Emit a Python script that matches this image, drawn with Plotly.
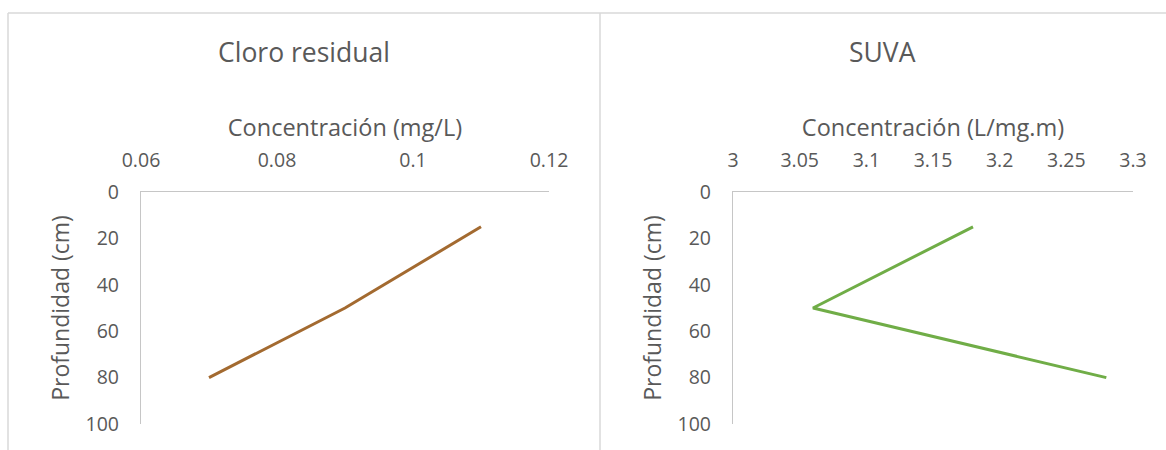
import plotly.graph_objects as go

# Depth profiles (depth in cm, concentration on the top axis)
depth_cm = [15, 50, 80]
cloro_mg_l = [0.11, 0.09, 0.07]
suva_l_mg_m = [3.18, 3.06, 3.28]

# Axis ticks
cloro_ticks = [0.06, 0.08, 0.10, 0.12]
cloro_tick_text = ["0.06", "0.08", "0.1", "0.12"]
suva_ticks = [3.0, 3.05, 3.1, 3.15, 3.2, 3.25, 3.3]
suva_tick_text = ["3", "3.05", "3.1", "3.15", "3.2", "3.25", "3.3"]
depth_ticks = [0, 20, 40, 60, 80, 100]

W, H = 1166, 450
FONT = "Open Sans, Lato, sans-serif"
TXT = "#595959"
AXIS = "#c6c6c6"
BORDER = "#d9d9d9"


def px_x(p):
    return p / W


def px_y(p):
    return 1 - p / H


fig = go.Figure()
fig.add_trace(go.Scatter(x=cloro_mg_l, y=depth_cm, mode="lines",
                         line=dict(color="#A36A30", width=3),
                         xaxis="x", yaxis="y", showlegend=False))
fig.add_trace(go.Scatter(x=suva_l_mg_m, y=depth_cm, mode="lines",
                         line=dict(color="#70AD47", width=3),
                         xaxis="x2", yaxis="y2", showlegend=False))

ydom = [px_y(424), px_y(192)]

common_x = dict(side="top", showgrid=False, zeroline=False, showline=True,
                linecolor=AXIS, linewidth=1.3, ticks="outside", ticklen=16,
                tickcolor="rgba(0,0,0,0)", automargin=False,
                tickfont=dict(family=FONT, size=19.5, color=TXT),
                title_font=dict(family=FONT, size=23.5, color=TXT),
                title_standoff=2, fixedrange=True)
common_y = dict(autorange=False, range=[100, 0], showgrid=False, zeroline=False,
                showline=True, linecolor=AXIS, linewidth=1.3, ticks="outside",
                ticklen=17, tickcolor="rgba(0,0,0,0)", tickvals=depth_ticks,
                automargin=False,
                tickfont=dict(family=FONT, size=19.5, color=TXT),
                title_font=dict(family=FONT, size=23, color=TXT),
                title_text="Profundidad (cm)", title_standoff=9,
                fixedrange=True)

fig.update_layout(
    width=W, height=H,
    margin=dict(l=0, r=0, t=0, b=0, autoexpand=False),
    paper_bgcolor="white", plot_bgcolor="white",
    xaxis=dict(common_x, domain=[px_x(141), px_x(549)], range=[0.06, 0.12],
               tickvals=cloro_ticks, ticktext=cloro_tick_text,
               title_text="Concentración (mg/L)", anchor="y"),
    yaxis=dict(common_y, domain=ydom, anchor="x"),
    xaxis2=dict(common_x, domain=[px_x(733), px_x(1133)], range=[3.0, 3.3],
                tickvals=suva_ticks, ticktext=suva_tick_text,
                title_text="Concentración (L/mg.m)", anchor="y2"),
    yaxis2=dict(common_y, domain=ydom, anchor="x2"),
    annotations=[
        dict(text="Cloro residual", x=px_x(304), y=px_y(52), xref="paper",
             yref="paper", showarrow=False, xanchor="center", yanchor="middle",
             font=dict(family=FONT, size=26.5, color=TXT)),
        dict(text="SUVA", x=px_x(882), y=px_y(52), xref="paper",
             yref="paper", showarrow=False, xanchor="center", yanchor="middle",
             font=dict(family=FONT, size=26.5, color=TXT)),
    ],
    shapes=[
        dict(type="line", xref="paper", yref="paper", x0=px_x(8), x1=1,
             y0=px_y(13), y1=px_y(13), line=dict(color=BORDER, width=1.5)),
        dict(type="line", xref="paper", yref="paper", x0=px_x(8), x1=px_x(8),
             y0=px_y(13), y1=0, line=dict(color=BORDER, width=1.5)),
        dict(type="line", xref="paper", yref="paper", x0=px_x(600), x1=px_x(600),
             y0=px_y(13), y1=0, line=dict(color=BORDER, width=1.5)),
    ],
)

fig.write_html("out.html")
